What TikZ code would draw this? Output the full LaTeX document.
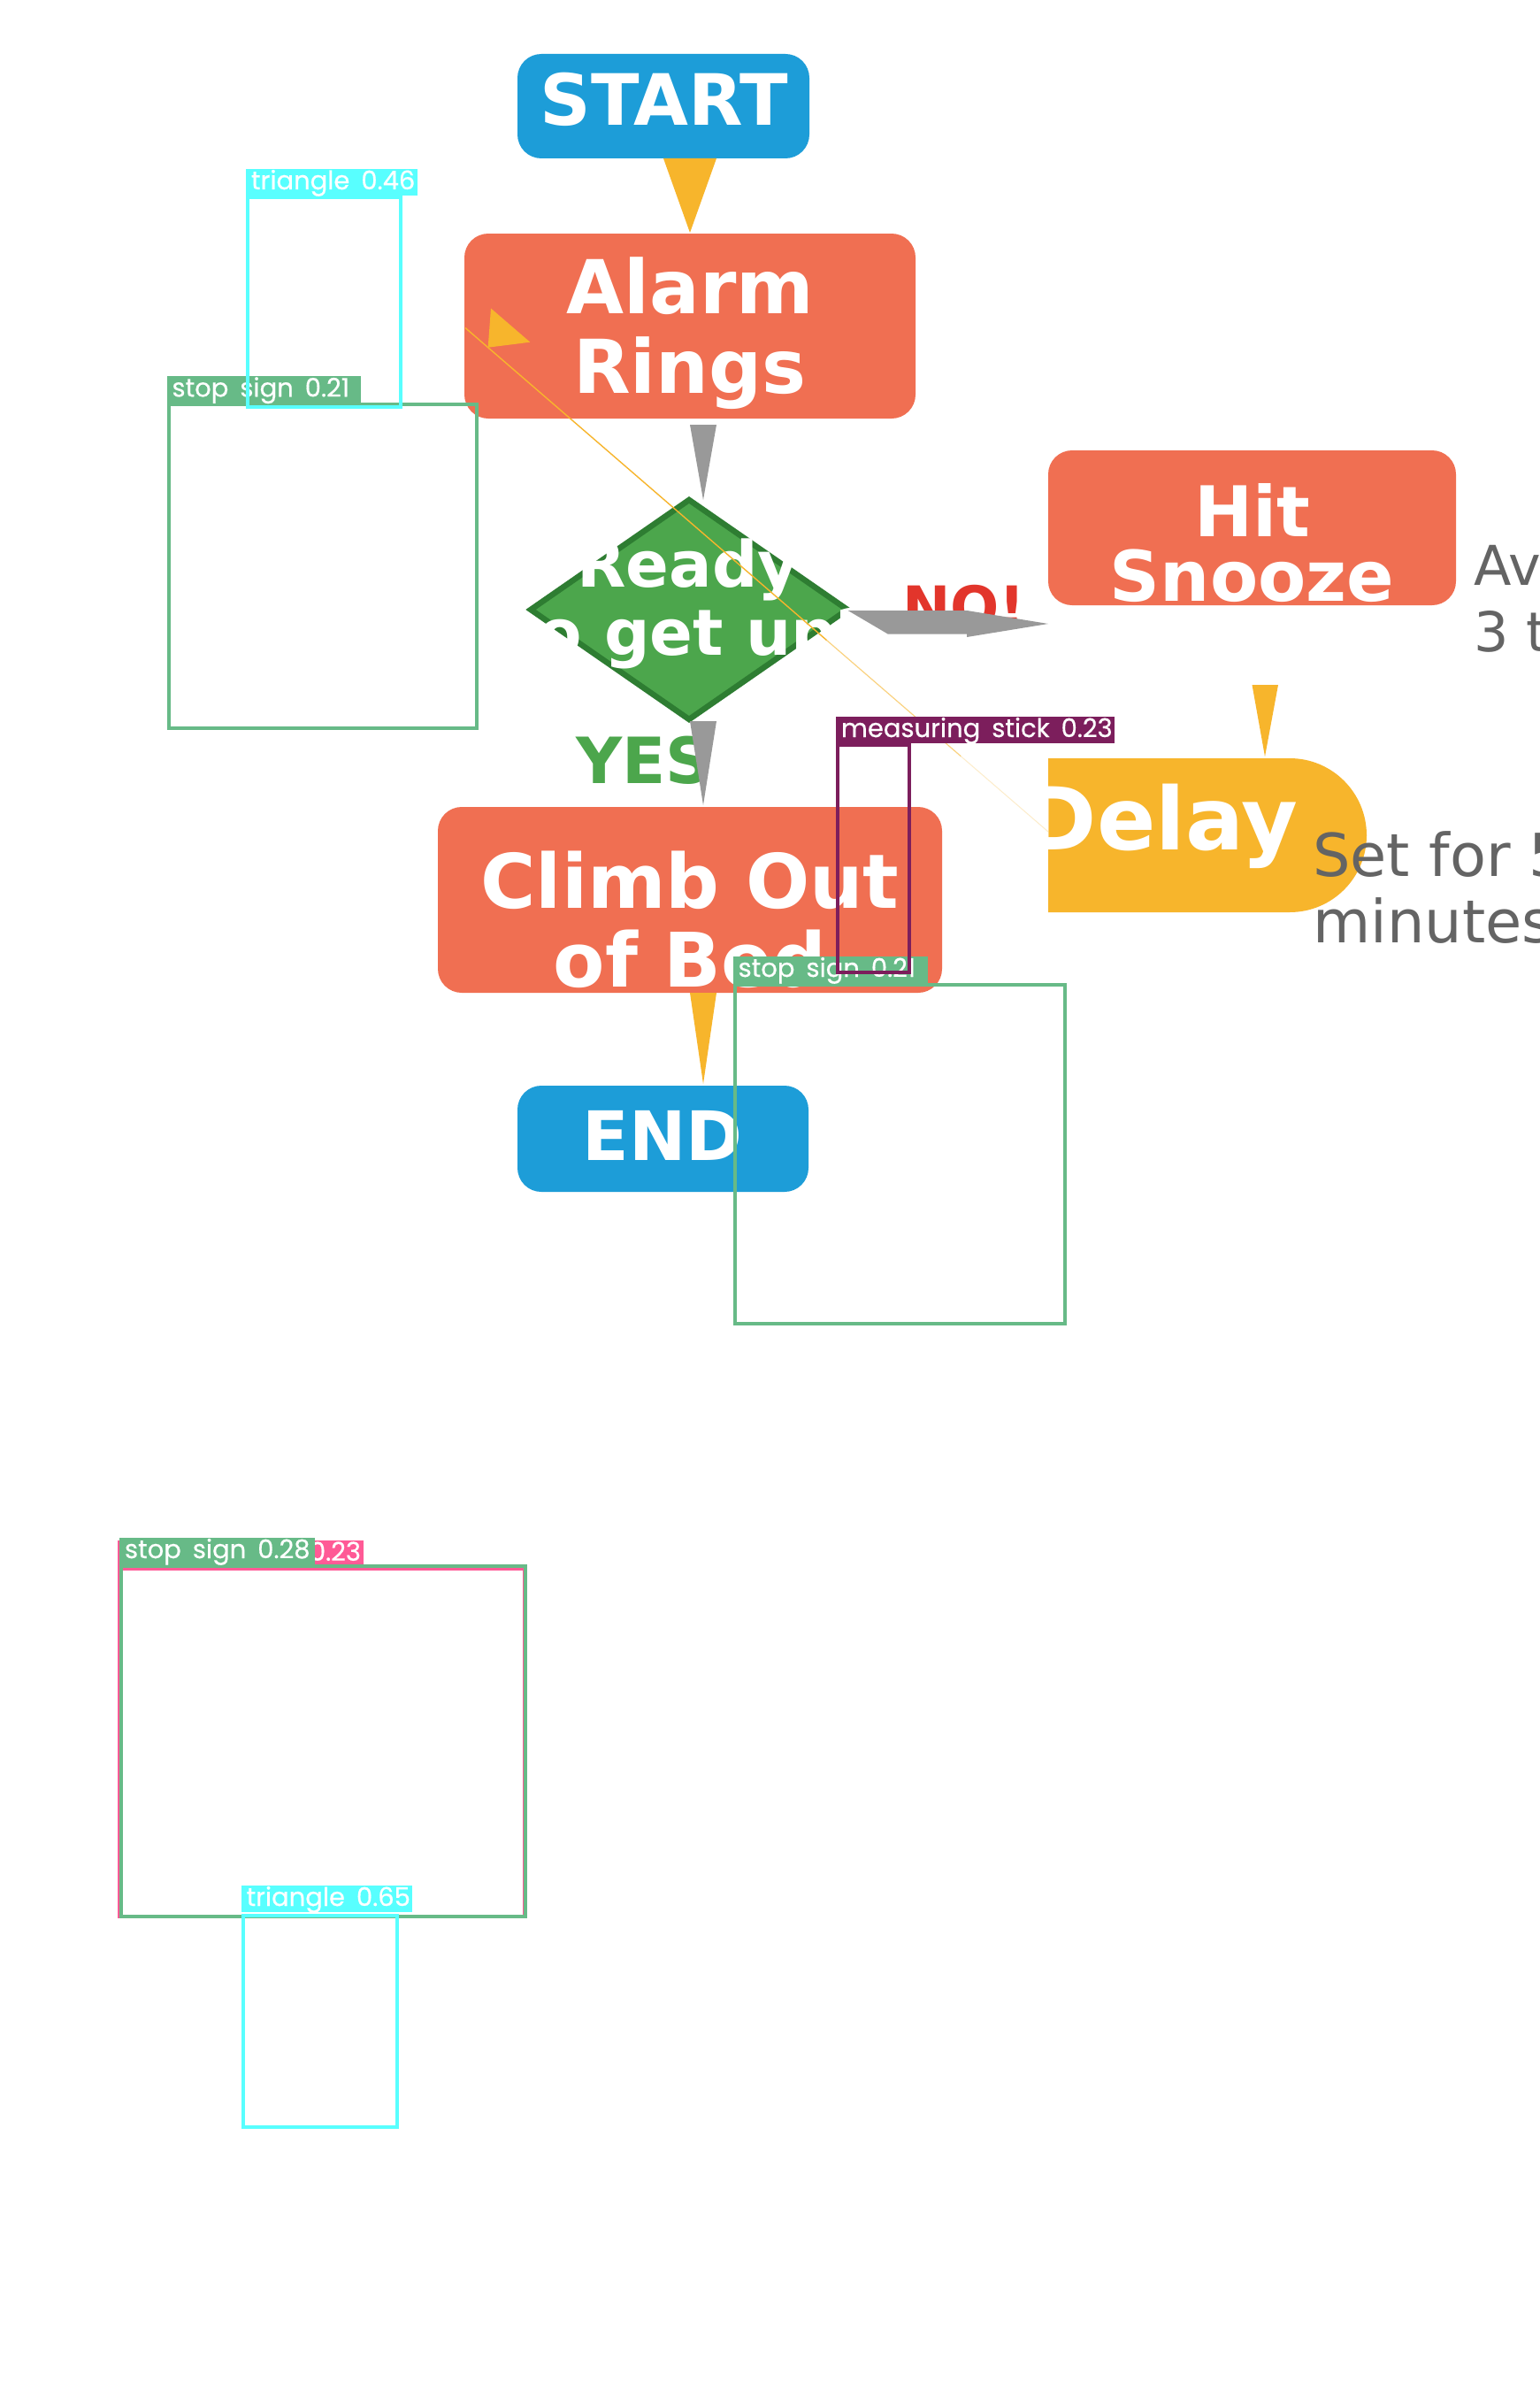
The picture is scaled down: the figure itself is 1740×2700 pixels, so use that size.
\documentclass[tikz,border=0pt]{standalone}
\usepackage{fontspec}
\setmainfont{DejaVu Sans}
\newfontfamily\detfont[FakeBold=0.5]{Poppins}
\usetikzlibrary{shapes.geometric,shapes.misc,calc}
\definecolor{termblue}{HTML}{1D9DD8}
\definecolor{procorange}{HTML}{F06F52}
\definecolor{arrowyellow}{HTML}{F7B52C}
\definecolor{arrowgray}{HTML}{999999}
\definecolor{decgreen}{HTML}{4CA64C}
\definecolor{decborder}{HTML}{2E7D32}
\definecolor{noRed}{HTML}{E2352B}
\definecolor{notegray}{HTML}{646464}
\definecolor{detcyan}{HTML}{58FFFF}
\definecolor{detgreen}{HTML}{67BA87}
\definecolor{detpurple}{HTML}{7C1E5C}
\definecolor{detpink}{HTML}{FF5A96}
\newcommand\setfs[1]{\fontsize{#1}{#1}\selectfont}
\newcommand\dgap{\hspace*{13pt}}
\begin{document}
\begin{tikzpicture}[x=1pt,y=-1pt,
  flowbox/.style={rectangle, rounded corners=27, inner sep=0, outer sep=0, draw=none},
  termbox/.style={flowbox, fill=termblue},
  procbox/.style={flowbox, fill=procorange},
  wtxt/.style={anchor=base, inner sep=0, text=white},
  notetxt/.style={anchor=base west, inner sep=0, text=notegray},
  detbox/.style={rectangle, draw=#1, line width=4, inner sep=0, outer sep=0, anchor=north west},
  detlab/.style={rectangle, fill=#1, inner sep=0, outer sep=0, anchor=south west, minimum height=30},
  dettxt/.style={anchor=base west, inner sep=0, outer sep=0, text=white, font=\detfont\setfs{29}},
]
\useasboundingbox (0,0) rectangle (1740,2700);
\fill[white] (0,0) rectangle (1740,2700);

% ---------- flow nodes ----------
\node[termbox, minimum width=330, minimum height=118] (start) at (750,120) {};
\node[wtxt, font=\bfseries\setfs{80}] (starttxt) at (751,142) {START};

\node[procbox, minimum width=510, minimum height=209] (alarm) at (780,368.5) {};
\node[wtxt, font=\bfseries\setfs{84}] (alarmtxta) at (780.5,354) {Alarm};
\node[wtxt, font=\bfseries\setfs{84}] (alarmtxtb) at (780,444) {Rings};

\node[diamond, fill=decgreen, draw=decborder, line width=6.5, line join=miter, minimum width=358,
      minimum height=248, inner sep=0, outer sep=0] (ready) at (779,689) {};
\node[wtxt, font=\bfseries\setfs{72}] (readytxta) at (778,663) {Ready};
\node[wtxt, font=\bfseries\setfs{72}] (readytxtb) at (781,740) {to get up?};

\node[procbox, minimum width=461, minimum height=175] (hit) at (1415.5,596.5) {};
\node[wtxt, font=\bfseries\setfs{79}] (hittxta) at (1415.5,606.5) {Hit};
\node[wtxt, font=\bfseries\setfs{79}] (hittxtb) at (1415.5,679) {Snooze};

\node[rounded rectangle, rounded rectangle left arc=none, fill=arrowyellow, minimum width=360,
      minimum height=174, inner sep=0, outer sep=0] (delay) at (1365,944) {};
\node[wtxt, font=\bfseries\setfs{98}] (delaytxt) at (1313,960) {Delay};

\node[procbox, minimum width=570, minimum height=210] (climb) at (780,1017) {};
\node[wtxt, font=\bfseries\setfs{85}] (climbtxta) at (780,1026) {Climb Out};
\node[wtxt, font=\bfseries\setfs{85}] (climbtxtb) at (780,1115) {of Bed};

\node[termbox, minimum width=329, minimum height=120] (end) at (749.5,1287) {};
\node[wtxt, font=\bfseries\setfs{77}] (endtxt) at (749,1311) {END};

% ---------- edge labels ----------
\node[anchor=base west, inner sep=0, text=decgreen, font=\bfseries\setfs{72}] (yeslab) at (651,885) {YES};
\node[anchor=base west, inner sep=0, text=noRed, font=\bfseries\setfs{65}] (nolab) at (1020,709) {NO!};

% ---------- connectors ----------
\fill[arrowyellow] (start.south) -- ($(start.south)+(60,0)$) -- ($(alarm.north)+(0,-1)$) -- cycle;
\fill[arrowgray] ($(alarm.south)+(0,7)$) -- ($(alarm.south)+(30,7)$) -- ($(ready.north)+(16,0)$) -- cycle;
\fill[arrowgray] ($(ready.east)+(0.6,1)$) -- ($(ready.east)+(135,1)$) -- ($(hit.west)+(0,108.5)$)
   -- ($(ready.east)+(135,31)$) -- ($(ready.east)+(135,27.7)$) -- ($(ready.east)+(46,27.7)$) -- cycle;
\fill[arrowgray] ($(ready.south)+(1,2)$) -- ($(ready.south)+(31,2)$) -- ($(climb.north)+(15,-2)$) -- cycle;
\fill[arrowyellow] (climb.south) -- ($(climb.south)+(30,0)$) -- ($(end.north)+(45.5,-2)$) -- cycle;
\fill[arrowyellow] ($(hit.south)+(0,90)$) -- ($(hit.south)+(29.5,90)$) -- ($(delay.north)+(65,-2)$) -- cycle;

% thin fading connector Delay -> Alarm Rings
\coordinate (loopA) at ($(alarm.west)+(1,2)$);
\coordinate (loopB) at ($(delay.west)+(0,-4)$);
\draw[arrowyellow, line width=1.4] (loopA) -- ($(loopA)!0.62!(loopB)$);
\draw[arrowyellow, line width=1.2, opacity=0.6] ($(loopA)!0.62!(loopB)$) -- ($(loopA)!0.85!(loopB)$);
\draw[arrowyellow, line width=1, opacity=0.25] ($(loopA)!0.85!(loopB)$) -- (loopB);
\fill[arrowyellow] ($(alarm.west)+(30,-20)$) -- ($(alarm.west)+(74.3,18.2)$) -- ($(alarm.west)+(26.7,24.2)$) -- cycle;

% ---------- notes ----------
\node[notetxt, font=\setfs{62}] (notea) at (1666,661) {Average};
\node[notetxt, font=\setfs{62}] (noteb) at (1666,736) {3 times};
\node[notetxt, font=\setfs{67}] (notec) at (1484,990) {Set for 5};
\node[notetxt, font=\setfs{67}] (noted) at (1484,1065) {minutes};

% ---------- detection overlays ----------
\node[detbox=detgreen, minimum width=348, minimum height=365.7] (detB) at (190.5,457.3) {};
\node[detlab=detgreen, minimum width=219] (detBlab) at (188.5,455.3) {};
\node[dettxt] (detBtxt) at (194.5,448.3) {stop\dgap sign\dgap 0.21};
\node[detbox=detcyan, minimum width=173, minimum height=237] (detA) at (280,223) {};
\node[detlab=detcyan, minimum width=194] (detAlab) at (278,221) {};
\node[dettxt] (detAtxt) at (284,214) {triangle\dgap 0.46};

\node[detbox=detgreen, minimum width=373.4, minimum height=382.7] (detD) at (830.6,1113) {};
\node[detlab=detgreen, minimum width=220] (detDlab) at (828.6,1111) {};
\node[dettxt] (detDtxt) at (834.6,1104) {stop\dgap sign\dgap 0.21};
\node[detbox=detpurple, minimum width=80.5, minimum height=257] (detC) at (947,842) {};
\node[detlab=detpurple, minimum width=315] (detClab) at (945,840) {};
\node[dettxt] (detCtxt) at (951,833) {measuring\dgap stick\dgap 0.23};

\node[detbox=detpink, minimum width=458, minimum height=393] (detE) at (134.8,1772.8) {};
\node[detlab=detpink, minimum width=278] (detElab) at (132.8,1770.8) {};
\node[dettxt, anchor=base east] (detEtxt) at (408,1763.8) {0.23};
\node[detbox=detgreen, minimum width=457.3, minimum height=395.6] (detF) at (137,1770) {};
\node[detlab=detgreen, minimum width=221] (detFlab) at (135,1768) {};
\node[dettxt] (detFtxt) at (141,1761) {stop\dgap sign\dgap 0.28};
\node[detbox=detcyan, minimum width=174, minimum height=239.4] (detG) at (274.6,2165) {};
\node[detlab=detcyan, minimum width=193] (detGlab) at (272.6,2161) {};
\node[dettxt] (detGtxt) at (278.6,2154) {triangle\dgap 0.65};
\end{tikzpicture}
\end{document}
